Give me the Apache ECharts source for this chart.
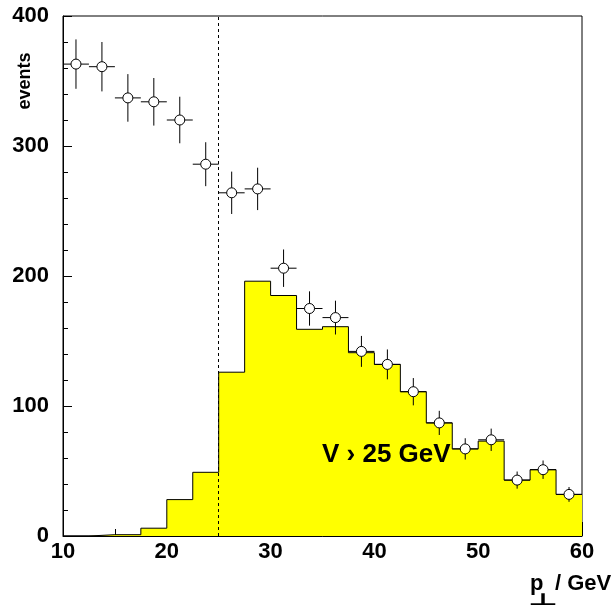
<!DOCTYPE html>
<html>
<head>
<meta charset="utf-8">
<script src="https://cdn.jsdelivr.net/npm/echarts@6/dist/echarts.min.js"></script>
<style>html,body{margin:0;padding:0;background:#fff}#c{width:616px;height:605px}</style>
</head>
<body>
<div id="c"></div>
<script>
// Histogram bins (lower / upper edges) and contents
const binLow  = [10, 12.5, 15, 17.5, 20, 22.5, 25, 27.5, 30, 32.5, 35, 37.5, 40, 42.5, 45, 47.5, 50, 52.5, 55, 57.5];
const binHigh = [12.5, 15, 17.5, 20, 22.5, 25, 27.5, 30, 32.5, 35, 37.5, 40, 42.5, 45, 47.5, 50, 52.5, 55, 57.5, 60];
const histValues = [0, 1, 1, 6, 28, 49, 126, 196, 185, 159, 161, 141, 132, 111, 87, 67, 73, 43, 51, 32];
// Data points (open circles) with errors
const pointX = [11.25, 13.75, 16.25, 18.75, 21.25, 23.75, 26.25, 28.75, 31.25, 33.75, 36.25, 38.75, 41.25, 43.75, 46.25, 48.75, 51.25, 53.75, 56.25, 58.75];
const pointY = [363, 361, 337, 334, 320, 286, 264, 267, 206, 175, 168, 142, 132, 111, 87, 67, 74, 43, 51, 32];
const pointErr = [19, 19, 18.3, 18.3, 17.9, 16.9, 16.3, 16.3, 14.4, 13.2, 13, 11.9, 11.5, 10.5, 9.3, 8.2, 8.6, 6.6, 7.1, 5.7];
const cutValue = 25;
const xTicks = [10, 20, 30, 40, 50, 60];
const yTicks = [0, 100, 200, 300, 400];

const FONT = 'Liberation Sans, Arial, Helvetica, sans-serif';

const stepData = binLow.map((x, i) => [x, histValues[i]]);
stepData.push([binHigh[binHigh.length - 1], histValues[histValues.length - 1]]);

const pointData = pointX.map((x, i) => [x, pointY[i], pointErr[i], binLow[i], binHigh[i]]);

const chart = echarts.init(document.getElementById('c'), null, {renderer: 'canvas'});
chart.setOption({
  animation: false,
  backgroundColor: '#fff',
  grid: {left: 63, right: 34, top: 16, bottom: 69, show: true, borderColor: '#000', borderWidth: 1, backgroundColor: 'transparent'},
  xAxis: {
    type: 'value', min: xTicks[0], max: xTicks[xTicks.length - 1], interval: 10,
    axisLine: {show: true, lineStyle: {color: '#000', width: 1}},
    axisTick: {show: true, inside: true, length: 14, lineStyle: {color: '#000'}},
    minorTick: {show: true, splitNumber: 2, length: 7, lineStyle: {color: '#000'}},
    splitLine: {show: false},
    axisLabel: {color: '#000', fontSize: 22, fontWeight: 'bold', fontFamily: FONT, margin: 5}
  },
  yAxis: {
    type: 'value', min: yTicks[0], max: yTicks[yTicks.length - 1], interval: 100,
    axisLine: {show: true, lineStyle: {color: '#000', width: 1}},
    axisTick: {show: true, inside: true, length: 9, lineStyle: {color: '#000'}},
    minorTick: {show: true, splitNumber: 5, length: 5, lineStyle: {color: '#000'}},
    splitLine: {show: false},
    axisLabel: {color: '#000', fontSize: 22, fontWeight: 'bold', fontFamily: FONT, margin: 14}
  },
  series: [
    {
      type: 'line', step: 'end', data: stepData, symbol: 'none',
      lineStyle: {color: '#000', width: 1},
      areaStyle: {color: '#ffff00', opacity: 1},
      z: 2,
      markLine: {
        silent: true, symbol: 'none', label: {show: false},
        lineStyle: {type: [3, 3], color: '#000', width: 1},
        data: [{xAxis: cutValue}]
      }
    },
    {
      type: 'custom', data: pointData, z: 5,
      renderItem: function (params, api) {
        const x = api.value(0), y = api.value(1), e = api.value(2);
        const c = api.coord([x, y]);
        const l = api.coord([api.value(3), y]);
        const r = api.coord([api.value(4), y]);
        const t = api.coord([x, y + e]);
        const b = api.coord([x, y - e]);
        const st = {stroke: '#000', lineWidth: 1};
        return {
          type: 'group',
          children: [
            {type: 'line', shape: {x1: l[0], y1: c[1], x2: r[0], y2: c[1]}, style: st},
            {type: 'line', shape: {x1: c[0], y1: t[1], x2: c[0], y2: b[1]}, style: st},
            {type: 'circle', shape: {cx: c[0], cy: c[1], r: 5}, style: {fill: '#fff', stroke: '#000', lineWidth: 1}}
          ]
        };
      }
    }
  ],
  graphic: [
    {type: 'text', x: 25, y: 81, rotation: Math.PI / 2, z: 10,
      style: {text: 'events', font: 'bold 18px ' + FONT, fill: '#000', align: 'center', verticalAlign: 'middle'}},
    {type: 'text', x: 322, y: 455, z: 10,
      style: {text: 'V \u203A 25 GeV', font: 'bold 26px ' + FONT, fill: '#000', align: 'left', verticalAlign: 'middle'}},
    {type: 'text', x: 530, y: 584, z: 10,
      style: {text: 'p', font: 'bold 22px ' + FONT, fill: '#000', align: 'left', verticalAlign: 'middle'}},
    {type: 'text', x: 542.5, y: 609, scaleX: 1.5, scaleY: 0.75, z: 10,
      style: {text: '\u22A5', font: 'bold 22px DejaVu Sans', fill: '#000', align: 'center', verticalAlign: 'bottom'}},
    {type: 'text', x: 555, y: 584, z: 10,
      style: {text: '/ GeV', font: 'bold 22px ' + FONT, fill: '#000', align: 'left', verticalAlign: 'middle'}}
  ]
});
</script>
</body>
</html>
